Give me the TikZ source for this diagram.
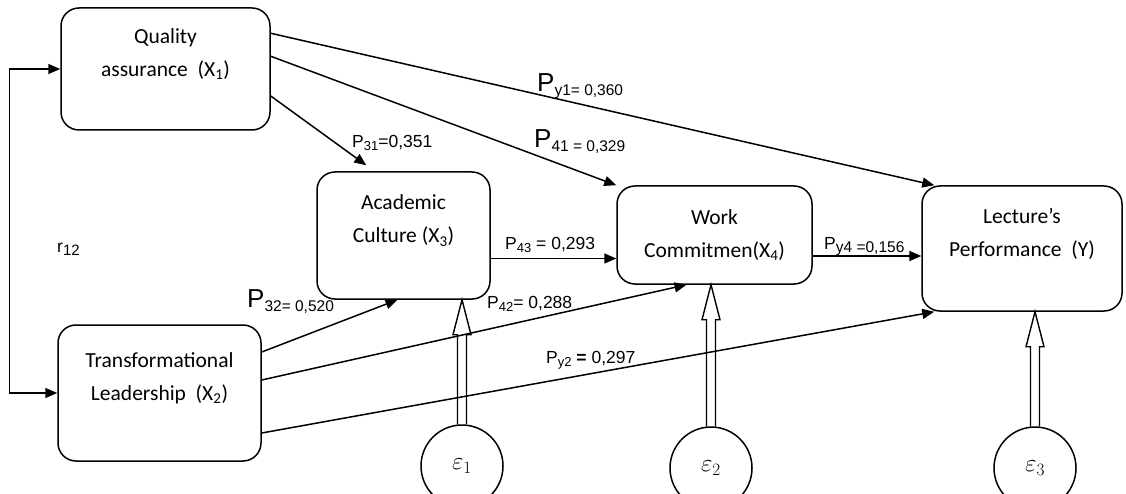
\documentclass[tikz,border=0pt]{standalone}
\usepackage{fontspec}
\setmainfont{Carlito}
\newfontfamily\arialfont{Liberation Sans}
\usetikzlibrary{arrows.meta,calc}

\newcommand{\Pbig}[1]{{\fontsize{26}{26}\selectfont P}\raisebox{-4pt}{\fontsize{15.5}{15.5}\selectfont #1}}
\newcommand{\Psub}[2]{P\raisebox{-3pt}{\fontsize{13}{13}\selectfont #1}#2}

\begin{document}
\begin{tikzpicture}[x=1pt,y=-1pt,
  box/.style={draw,line width=1.5pt,rounded corners=18pt,align=center,inner sep=0pt,font=\fontsize{21.5}{33}\selectfont},
  errnode/.style={draw,circle,line width=1.5pt,minimum size=82pt,inner sep=0pt,font=\fontsize{25}{25}\selectfont},
  link/.style={line width=1.5pt,-{Triangle[length=12pt,width=10pt]}},
  coef/.style={anchor=base west,inner sep=0pt,font=\arialfont\fontsize{17.5}{17.5}\selectfont}]

\clip (0,0) rectangle (1126,494);

\node[box,minimum width=209pt,minimum height=122pt] (qa) at (165.5,69) {Quality\\assurance~~(X\textsubscript{1})\\~};
\node[box,minimum width=203pt,minimum height=136pt] (tl) at (159.5,393) {Transformational\\Leadership~~(X\textsubscript{2})\\~};
\node[box,minimum width=173pt,minimum height=127pt] (ac) at (403.5,235.5) {Academic\\Culture (X\textsubscript{3})\\~};
\node[box,minimum width=195pt,minimum height=98pt] (wc) at (714.5,235) {Work\\Commitmen(X\textsubscript{4})};
\node[box,minimum width=200pt,minimum height=125pt] (lp) at (1022,248.5) {Lecture’s\\Performance~~(Y)\\~};

\node[errnode] (e1) at (462,466) {$\varepsilon_1$};
\node[errnode] (e2) at (711,468) {$\varepsilon_2$};
\node[errnode] (e3) at (1035,468) {$\varepsilon_3$};

\draw[link] ([yshift=-26pt]qa.north east) -- ([xshift=13pt]lp.north west);
\draw[link] ([yshift=-49pt]qa.north east) -- (wc.north west);
\draw[link] ([yshift=-27pt]qa.east) -- ([xshift=50pt,yshift=6pt]ac.north west);
\draw[link] ([yshift=-23pt]ac.east) -- ([yshift=-23pt]ac.east -| wc.west);
\draw[link] ([yshift=-21pt]wc.east) -- ([yshift=-21pt]wc.east -| lp.west);
\draw[link] ([yshift=41pt]tl.east) -- ([xshift=-6pt]ac.south);
\draw[link] ([yshift=13pt]tl.east) -- ([xshift=-28pt]wc.south);
\draw[link] ([yshift=-40pt]tl.east) -- ([xshift=13pt]lp.south west);
\draw[link,{Triangle[length=12pt,width=10pt]}-{Triangle[length=12pt,width=10pt]}] (tl.west) -- ++(-48,0) |- (qa.west);

\foreach \e/\b in {e1/ac,e2/wc,e3/lp}{
  \coordinate (t) at (\e.north |- \b.south);
  \draw[line width=1.4pt] ($(\e.north)+(-4.5,0)$) -- ($(t)+(-4.5,35)$) -- ($(t)+(-9,35)$) -- (t)
    -- ($(t)+(9,35)$) -- ($(t)+(4.5,35)$) -- ($(\e.north)+(4.5,0)$);
}

\node[coef] (pr) at (57,252) {r\raisebox{-3pt}{\fontsize{15}{15}\selectfont 12}};
\node[coef] (py1) at (537,92) {\Pbig{y1= 0,360}};
\node[coef] (p41) at (534,148) {\Pbig{41 = 0,329}};
\node[coef] (p31) at (352,148) {\Psub{31}{=0,351}};
\node[coef] (p43) at (505,250) {\Psub{43}{ = 0,293}};
\node[coef] (p32) at (247,307) {\Pbig{32= 0,520}};
\node[coef] (p42) at (487,308) {\Psub{42}{= 0,288}};
\node[coef] (py4) at (824,250) {P\raisebox{-3pt}{\fontsize{15.5}{15.5}\selectfont y4 =0,156}};
\node[coef] (py2) at (546,363) {\Psub{y2}{ \textbf{=} 0,297}};
\end{tikzpicture}
\end{document}
